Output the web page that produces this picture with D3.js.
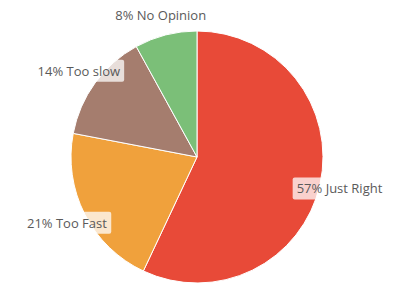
<!DOCTYPE html>
<html><head><meta charset="utf-8">
<script src="https://cdn.jsdelivr.net/npm/d3@7"></script>
<style>html,body{margin:0;padding:0;background:#fff;}svg{display:block;}</style>
</head><body>
<svg id="c" width="395" height="285"></svg>
<script>
const categories = ["Just Right", "Too Fast", "Too slow", "No Opinion"];
const values = [57, 21, 14, 8];
const colors = ["#e84a38", "#f0a13c", "#a57d6e", "#7bbf78"];

const svg = d3.select("#c");
const cx = 197, cy = 157, R = 126, LR = 146;
const g = svg.append("g").attr("transform", `translate(${cx},${cy})`);
const data = categories.map((c, i) => ({cat: c, v: values[i], col: colors[i]}));
const pie = d3.pie().value(d => d.v).sort(null);
const arc = d3.arc().innerRadius(0).outerRadius(R);
const labelArc = d3.arc().innerRadius(LR).outerRadius(LR);
const arcs = pie(data);

g.selectAll("path").data(arcs).join("path")
  .attr("d", arc).attr("fill", d => d.data.col)
  .attr("stroke", "#fff").attr("stroke-width", 1);

const lab = g.selectAll("g.lab").data(arcs).join("g").attr("class", "lab")
  .attr("transform", d => `translate(${labelArc.centroid(d)})`);
lab.append("text")
  .attr("text-anchor", "middle").attr("dy", "0.35em")
  .attr("font-family", "'Open Sans', sans-serif").attr("font-size", 13)
  .attr("fill", "#5a5a5a")
  .text(d => `${d.data.v}% ${d.data.cat}`);
lab.each(function() {
  const t = d3.select(this).select("text");
  const b = t.node().getBBox();
  d3.select(this).insert("rect", "text")
    .attr("x", b.x - 4).attr("y", b.y - 2).attr("width", b.width + 8).attr("height", b.height + 4)
    .attr("rx", 2).attr("fill", "#fff").attr("fill-opacity", 0.75);
});
</script>
</body></html>
